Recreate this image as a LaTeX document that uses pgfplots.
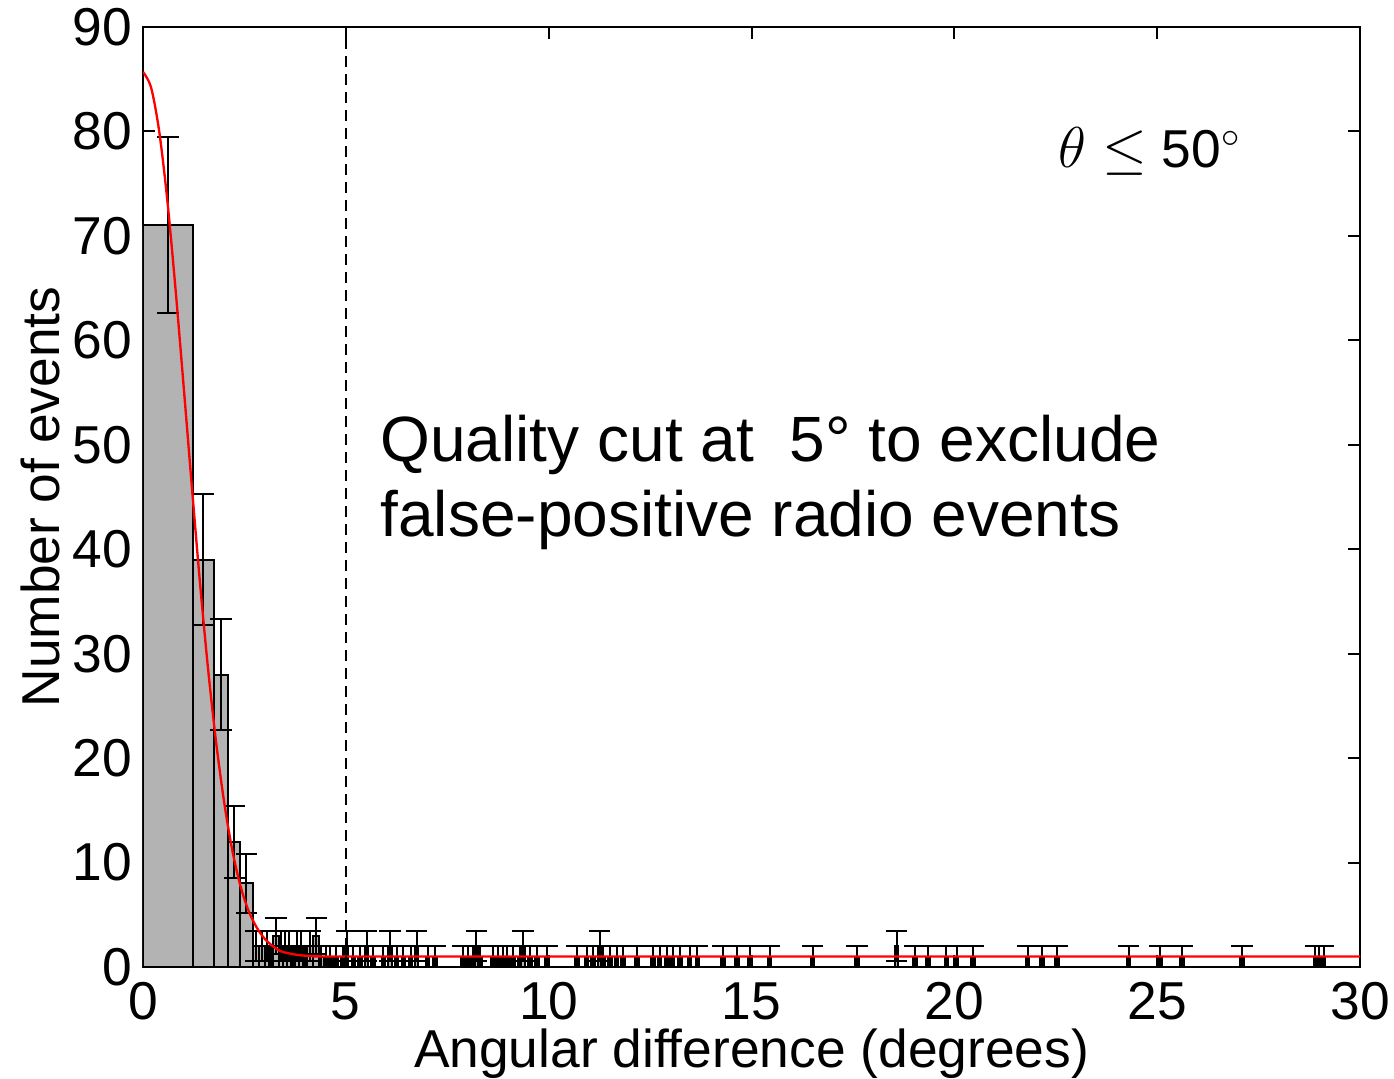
\documentclass[border=0pt]{standalone}
\usepackage{pgfplots}
\pgfplotsset{compat=1.18}
\usepackage{pgfplotstable}
\usepackage{fontspec}
\setmainfont{Liberation Sans}

\definecolor{barfill}{RGB}{179,179,179}

% Core of the distribution: left bin edge and count (last row closes the final bin)
\pgfplotstableread{
x     h
0.00  71
1.23  39
1.75  28
2.10  12
2.40  8
2.70  2
2.85  2
3.00  2
3.10  1
3.20  3
3.35  2
3.45  2
3.55  2
3.65  1
3.75  2
3.85  2
3.95  1
4.05  2
4.20  3
4.35  1
4.45  1
4.55  0
}\corebins

% Isolated events in the tail: bin centre and count
\pgfplotstableread{
x      h
4.61   1
4.76   1
4.93   1
5.02   2
5.18   1
5.35   1
5.51   2
5.67   1
5.92   1
6.09   2
6.25   1
6.42   1
6.60   1
6.75   2
7.02   1
7.20   1
7.89   1
8.01   1
8.13   1
8.22   2
8.31   1
8.63   1
8.75   1
8.87   1
8.97   1
9.12   1
9.29   1
9.37   2
9.54   1
9.71   1
9.96   1
10.70  1
10.94  1
11.09  1
11.26  2
11.34  1
11.51  1
11.68  1
11.83  1
12.18  1
12.57  1
12.74  1
12.92  1
13.06  1
13.24  1
13.48  1
13.66  1
14.30  1
14.64  1
14.96  1
15.45  1
16.51  1
17.60  1
18.58  2
19.03  1
19.35  1
19.80  1
20.06  1
20.46  1
21.81  1
22.16  1
22.53  1
24.30  1
25.07  1
25.61  1
27.09  1
28.90  1
29.00  1
29.10  1
}\tailbins

% Poisson error bars: position, count, sqrt(count)
\pgfplotstableread{
x      y    e
0.615  71   8.43
1.49   39   6.24
1.925  28   5.29
2.25   12   3.46
2.55   8    2.83
2.775  2    1.41
2.925  2    1.41
3.05   2    1.41
3.15   1    1
3.275  3    1.73
3.40   2    1.41
3.50   2    1.41
3.60   2    1.41
3.70   1    1
3.80   2    1.41
3.90   2    1.41
4.00   1    1
4.125  2    1.41
4.275  3    1.73
4.40   1    1
4.50   1    1
4.61   1    1
4.76   1    1
4.93   1    1
5.02   2    1.41
5.18   1    1
5.35   1    1
5.51   2    1.41
5.67   1    1
5.92   1    1
6.09   2    1.41
6.25   1    1
6.42   1    1
6.60   1    1
6.75   2    1.41
7.02   1    1
7.20   1    1
7.89   1    1
8.01   1    1
8.13   1    1
8.22   2    1.41
8.31   1    1
8.63   1    1
8.75   1    1
8.87   1    1
8.97   1    1
9.12   1    1
9.29   1    1
9.37   2    1.41
9.54   1    1
9.71   1    1
9.96   1    1
10.70  1    1
10.94  1    1
11.09  1    1
11.26  2    1.41
11.34  1    1
11.51  1    1
11.68  1    1
11.83  1    1
12.18  1    1
12.57  1    1
12.74  1    1
12.92  1    1
13.06  1    1
13.24  1    1
13.48  1    1
13.66  1    1
14.30  1    1
14.64  1    1
14.96  1    1
15.45  1    1
16.51  1    1
17.60  1    1
18.58  2    1.41
19.03  1    1
19.35  1    1
19.80  1    1
20.06  1    1
20.46  1    1
21.81  1    1
22.16  1    1
22.53  1    1
24.30  1    1
25.07  1    1
25.61  1    1
27.09  1    1
28.90  1    1
29.00  1    1
29.10  1    1
}\errbars

\begin{document}
\begin{tikzpicture}
\begin{axis}[
  scale only axis,
  width=365.1pt, height=282pt,
  xmin=0, xmax=30, ymin=0, ymax=90,
  xtick={0,5,...,30},
  ytick={0,10,...,90},
  tick align=inside,
  major tick length=3.6pt,
  axis line style={line width=0.6pt},
  every tick/.style={black, line width=0.6pt},
  /pgf/number format/assume math mode=true,
  tick label style={font=\fontsize{16}{19}\selectfont},
  xticklabel style={inner sep=0pt, anchor=north, yshift=-4.4pt},
  yticklabel style={inner sep=0pt, anchor=east, xshift=-3pt},
  xlabel={Angular difference (degrees)},
  ylabel={Number of events},
  label style={font=\fontsize{16}{19}\selectfont},
  xlabel style={at={(axis description cs:0.5,-0.1074)}, anchor=base},
  ylabel style={at={(axis description cs:-0.0682,0.5)}, anchor=base},
  clip=true,
]
  \coordinate (bbSW) at (axis description cs:-0.1175,-0.11915);
  \coordinate (bbNE) at (axis description cs:1.02794,1.02872);

  % histogram core
  \addplot[ybar interval, fill=barfill, draw=black, line width=0.6pt]
    table[x=x, y=h] {\corebins};
  % tail events
  \addplot[ybar, bar width=0.08, bar shift=0pt, fill=barfill, draw=black, line width=0.6pt]
    table[x=x, y=h] {\tailbins};

  % statistical errors (bars only, no markers)
  \addplot[draw=none, mark=none,
    error bars/.cd, y dir=both, y explicit,
    error bar style={draw=black, line width=0.6pt},
    error mark options={rotate=90, mark size=3.2pt, draw=black, line width=0.6pt}]
    table[x=x, y=y, y error=e] {\errbars};

  % Gaussian fit with flat background
  \addplot[red, line width=0.7pt, smooth] coordinates {
    (0,85.7) (0.2,84.2) (0.4,80.0) (0.6,73.4) (0.8,65.0) (1.0,55.7)
    (1.2,46.2) (1.4,37.0) (1.6,28.7) (1.8,21.6) (2.0,15.8) (2.2,11.2)
    (2.4,7.8) (2.6,5.4) (2.8,3.8) (3.0,2.7) (3.2,2.0) (3.4,1.5)
    (3.6,1.3) (3.8,1.16) (4.0,1.08) (4.4,1.01) (5.0,1.0) (6.0,1.0) (30,1.0)
  };

  % quality cut
  \addplot[black, line width=0.5pt, dash pattern=on 3.4pt off 2pt] coordinates {(5,0) (5,90)};

  \node[anchor=base west, inner sep=0pt, font=\fontsize{16}{19}\selectfont]
    at (axis cs:22.55,76.5) {$\theta\leq$ 50$^\circ$};
  \node[anchor=base west, inner sep=0pt, font=\fontsize{19.2}{23}\selectfont]
    at (axis cs:5.84,48.4) {Quality cut at\ \ 5° to exclude};
  \node[anchor=base west, inner sep=0pt, font=\fontsize{19.2}{23}\selectfont]
    at (axis cs:5.84,41.2) {false-positive radio events};
\end{axis}
\pgfresetboundingbox
\path[use as bounding box] (bbSW) rectangle (bbNE);
\end{tikzpicture}
\end{document}
